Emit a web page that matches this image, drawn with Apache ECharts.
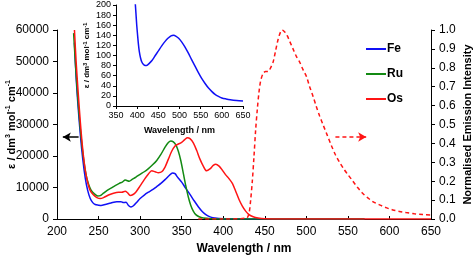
<!DOCTYPE html>
<html><head><meta charset="utf-8">
<script src="https://cdn.jsdelivr.net/npm/echarts@6/dist/echarts.min.js"></script>
<style>html,body{margin:0;padding:0;background:#fff}#c{width:474px;height:256px}</style>
</head><body><div id="c"></div>
<script>
// Absorption spectra (main plot), wavelength nm -> epsilon
const feX = [221,223,225,228,231,234,237,240,243,246,250,253,258,265,272,277,280,283,286,289,292,296,300,305,310,315,320,325,330,335,339,342,345,350,355,360,365,370,375,380,385,390,400,420,450,500,570];
const feY = [56000,45000,37000,27000,19000,13000,9000,6500,5200,4600,4400,4300,4600,5100,5500,5500,5200,5300,4300,3800,4200,5300,6500,7600,8500,9300,10300,11300,12500,13800,14600,14400,13300,11700,9700,7800,5800,3900,2300,1200,600,300,100,50,20,10,0];
const ruX = [220,222,224,226,229,232,235,238,241,245,249,252,256,260,265,270,275,279,282,284,287,290,295,300,305,310,315,320,325,330,334,337,340,343,346,349,352,355,358,361,364,367,371,376,385,400,450,570];
const ruY = [59000,50000,42000,35000,26000,19000,14000,11000,9200,8000,7300,7400,8200,9000,9800,10600,11300,11800,12400,12200,12000,12500,13300,14200,15000,16000,17200,18600,20500,22800,24300,24800,24500,23500,21500,18500,14500,10500,7000,4300,2500,1400,700,300,100,30,0,0];
const osX = [221,223,225,228,231,234,237,240,244,248,252,256,262,268,274,278,282,285,288,291,295,300,305,310,314,318,322,326,330,334,338,342,346,350,354,357,360,364,368,372,376,380,384,388,391,395,399,403,407,411,415,419,423,427,431,436,442,450,470,650];
const osY = [60000,50000,42000,31000,22000,15500,11500,9000,7600,6800,6500,6800,7600,8200,8500,8500,8800,8300,7500,7700,8600,10500,12500,14300,15300,15000,14700,15000,16500,19000,21500,23200,23800,24300,25300,25800,25500,24200,21800,19000,16800,15300,15900,17000,17400,16800,15500,14000,12800,11300,8800,6200,4100,2500,1400,700,300,100,0,0];
// Os normalised emission (right axis)
const emX = [370,400,428,431,433,435,437,439,441,443,445,448,451,454,457,460,463,466,469,471,474,477,480,484,488,492,496,500,504,508,512,516,520,525,530,535,540,545,550,556,562,568,574,580,588,596,604,612,620,630,640,650];
const emY = [0,0,0.005,0.03,0.1,0.2,0.33,0.47,0.58,0.67,0.73,0.77,0.78,0.78,0.8,0.83,0.89,0.95,0.99,1.0,0.99,0.97,0.94,0.9,0.86,0.83,0.79,0.755,0.70,0.65,0.595,0.545,0.50,0.445,0.39,0.34,0.30,0.265,0.235,0.20,0.165,0.135,0.112,0.092,0.075,0.06,0.048,0.04,0.034,0.028,0.024,0.021];
// Inset: Fe low-energy absorption
const insX = [395,397,399,401,403,405,408,411,415,419,423,428,435,442,450,458,466,474,480,486,492,498,505,512,520,528,536,544,552,560,568,576,584,592,600,610,620,635,650];
const insY = [210,185,160,140,122,108,95,87,82,80,80.5,84,90,99,109,119,128,135,139,140,138,134,127,118,106,93,80,67,55,45,36,29,23,19,16,14,12.5,11,10];
const seriesNames = ['Fe','Ru','Os'];
const colors = ['#1010f5','#138a13','#ff1414'];

const zip = (xs, ys) => xs.map((x, i) => [x, ys[i]]);
const F = "'Liberation Sans', Arial, sans-serif";
const axisCommon = {
  nameMoveOverlap: false,
  axisLine: {show: true, lineStyle: {color: '#000', width: 1}},
  axisTick: {show: true, length: 4, lineStyle: {color: '#000'}},
  splitLine: {show: false},
  axisLabel: {color: '#000', fontFamily: F, fontSize: 12, formatter: v => String(v)}
};
const chart = echarts.init(document.getElementById('c'));
chart.setOption({
  animation: false,
  backgroundColor: '#fff',
  grid: [
    {left: 57, right: 43, top: 30, bottom: 37, containLabel: false, outerBoundsMode: 'none'},
    {left: 116, top: 5, width: 127, height: 101, containLabel: false, outerBoundsMode: 'none'}
  ],
  legend: {
    data: seriesNames, orient: 'vertical', left: 361, top: 38,
    icon: 'rect', itemWidth: 20, itemHeight: 2, itemGap: 13,
    textStyle: {fontFamily: F, fontSize: 12, fontWeight: 'bold', color: '#000', padding: [0,0,0,-4]}
  },
  xAxis: [
    Object.assign({}, axisCommon, {gridIndex: 0, type: 'value', min: 200, max: 650, interval: 50,
      axisTick: {show: true, inside: true, length: 3, lineStyle: {color: '#000'}},
      axisLabel: {color: '#000', fontFamily: F, fontSize: 12, margin: 7, formatter: v => String(v)},
      name: 'Wavelength / nm', nameLocation: 'middle', nameGap: 24,
      nameTextStyle: {fontFamily: F, fontSize: 12, fontWeight: 'bold', color: '#000'}}),
    Object.assign({}, axisCommon, {gridIndex: 1, type: 'value', min: 350, max: 650, interval: 50,
      axisTick: {show: true, length: 3, lineStyle: {color: '#000'}},
      axisLabel: {color: '#000', fontFamily: F, fontSize: 9, margin: 5},
      name: 'Wavelength / nm', nameLocation: 'middle', nameGap: 20,
      nameTextStyle: {fontFamily: F, fontSize: 9, fontWeight: 'bold', color: '#000'}})
  ],
  yAxis: [
    Object.assign({}, axisCommon, {gridIndex: 0, type: 'value', min: 0, max: 60000, interval: 10000,
      name: '{a|ε / dm}{s|3}{a| mol}{s|-1}{a| cm}{s|-1}', nameLocation: 'middle', nameGap: 39,
      nameTextStyle: {color: '#000', rich: {
        a: {fontFamily: F, fontSize: 11, fontWeight: 'bold', color: '#000'},
        s: {fontFamily: F, fontSize: 7, fontWeight: 'bold', color: '#000', padding: [0,0,6,0]}
      }}}),
    Object.assign({}, axisCommon, {gridIndex: 0, type: 'value', position: 'right', min: 0, max: 1, interval: 0.1,
      axisLabel: {color: '#000', fontFamily: F, fontSize: 12, formatter: v => v.toFixed(1)},
      name: 'Normalised Emission Intensity', nameLocation: 'middle', nameGap: 31,
      nameTextStyle: {fontFamily: F, fontSize: 11, fontWeight: 'bold', color: '#000'}}),
    Object.assign({}, axisCommon, {gridIndex: 1, type: 'value', min: 0, max: 200, interval: 20,
      axisTick: {show: true, length: 3, lineStyle: {color: '#000'}},
      axisLabel: {color: '#000', fontFamily: F, fontSize: 9, margin: 5},
      name: '{a|ε / dm}{s|3}{a| mol}{s|-1}{a| cm}{s|-1}', nameLocation: 'middle', nameGap: 24,
      nameTextStyle: {color: '#000', rich: {
        a: {fontFamily: F, fontSize: 8, fontWeight: 'bold', color: '#000'},
        s: {fontFamily: F, fontSize: 5.5, fontWeight: 'bold', color: '#000', padding: [0,0,4,0]}
      }}})
  ],
  series: [
    {name: 'Fe', type: 'line', xAxisIndex: 0, yAxisIndex: 0, data: zip(feX, feY), showSymbol: false, symbol: 'none',
      smooth: 0.3, lineStyle: {color: colors[0], width: 1.5}, itemStyle: {color: colors[0]},
      markLine: {silent: true, symbol: ['none', 'arrow'], symbolSize: [7, 8], label: {show: false},
        lineStyle: {color: '#000', width: 1.5, type: 'solid'},
        data: [[{coord: [226, 26000]}, {coord: [207, 26000]}]]}},
    {name: 'Ru', type: 'line', xAxisIndex: 0, yAxisIndex: 0, data: zip(ruX, ruY), showSymbol: false, symbol: 'none',
      smooth: 0.3, lineStyle: {color: colors[1], width: 1.5}, itemStyle: {color: colors[1]}},
    {name: 'Os', type: 'line', xAxisIndex: 0, yAxisIndex: 0, data: zip(osX, osY), showSymbol: false, symbol: 'none',
      smooth: 0.3, lineStyle: {color: colors[2], width: 1.5}, itemStyle: {color: colors[2]}},
    {name: 'Os emission', type: 'line', xAxisIndex: 0, yAxisIndex: 1, data: zip(emX, emY), showSymbol: false, symbol: 'none',
      smooth: 0.3, lineStyle: {color: colors[2], width: 1.5, type: [4, 3]}, itemStyle: {color: colors[2]},
      markLine: {silent: true, symbol: ['none', 'arrow'], symbolSize: [7, 8], label: {show: false},
        lineStyle: {color: colors[2], width: 1.5, type: [4, 3]},
        data: [[{coord: [535, 0.434]}, {coord: [572, 0.434]}]]}},
    {name: 'Fe inset', type: 'line', xAxisIndex: 1, yAxisIndex: 2, data: zip(insX, insY), showSymbol: false, symbol: 'none',
      smooth: 0.3, clip: true, lineStyle: {color: colors[0], width: 1.5}, itemStyle: {color: colors[0]}}
  ]
});
</script></body></html>
